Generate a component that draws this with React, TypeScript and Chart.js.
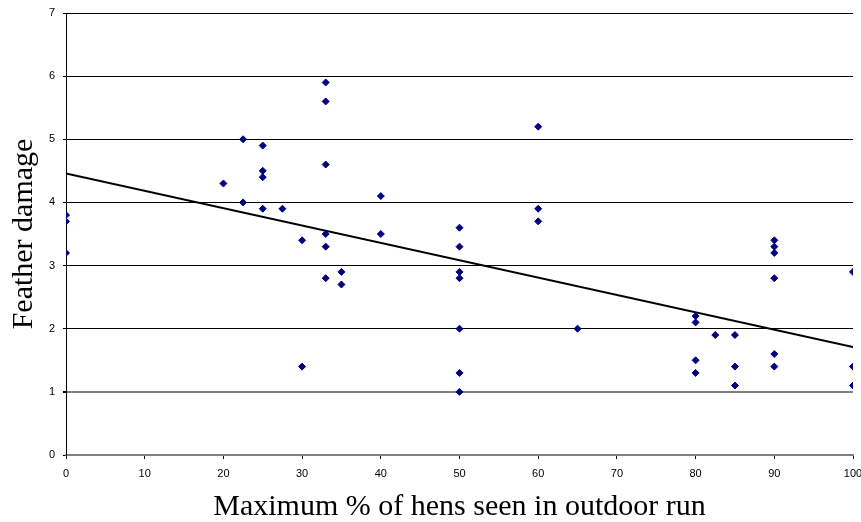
import React, { useEffect, useRef } from "react";
import { Chart, registerables } from "chart.js";

Chart.register(...registerables);

// Maximum % of hens seen in outdoor run
const hensPct: number[] = [
  0, 0, 0,
  20,
  22.5, 22.5,
  25, 25, 25, 25,
  27.5,
  30, 30,
  33, 33, 33, 33, 33, 33,
  35, 35,
  40, 40,
  50, 50, 50, 50, 50, 50, 50,
  60, 60, 60,
  65,
  80, 80, 80, 80,
  82.5,
  85, 85, 85,
  90, 90, 90, 90, 90, 90,
  100, 100, 100,
];

// Feather damage score
const featherDamage: number[] = [
  3.8, 3.7, 3.2,
  4.3,
  5.0, 4.0,
  4.9, 4.5, 4.4, 3.9,
  3.9,
  3.4, 1.4,
  5.9, 5.6, 4.6, 3.5, 3.3, 2.8,
  2.9, 2.7,
  4.1, 3.5,
  3.6, 3.3, 2.9, 2.8, 2.0, 1.3, 1.0,
  5.2, 3.9, 3.7,
  2.0,
  2.2, 2.1, 1.5, 1.3,
  1.9,
  1.9, 1.4, 1.1,
  3.4, 3.3, 3.2, 2.8, 1.6, 1.4,
  2.9, 1.4, 1.1,
];

// Linear trend line end points
const trendX: number[] = [0, 100];
const trendY: number[] = [4.46, 1.71];

const xTitle = "Maximum % of hens seen in outdoor run";
const yTitle = "Feather damage";

export default function App() {
  const ref = useRef<HTMLCanvasElement | null>(null);

  useEffect(() => {
    if (!ref.current) return;
    const points = hensPct.map((x, i) => ({ x, y: featherDamage[i] }));
    const trend = trendX.map((x, i) => ({ x, y: trendY[i] }));
    const chart = new Chart(ref.current, {
      type: "scatter",
      data: {
        datasets: [
          {
            type: "line",
            data: trend,
            borderColor: "#000000",
            borderWidth: 2,
            pointRadius: 0,
            showLine: true,
            fill: false,
            order: 2,
          },
          {
            type: "scatter",
            data: points,
            pointStyle: "rectRot",
            pointRadius: 3.5,
            pointBackgroundColor: "#000080",
            pointBorderColor: "#000080",
            pointBorderWidth: 1,
            order: 1,
          },
        ],
      },
      options: {
        responsive: false,
        animation: false,
        layout: { padding: { top: 13, right: 8, left: 0, bottom: 0 } },
        plugins: {
          legend: { display: false },
          tooltip: { enabled: false },
        },
        scales: {
          x: {
            type: "linear",
            min: 0,
            max: 100,
            ticks: {
              stepSize: 10,
              color: "#000000",
              font: { family: "'Liberation Sans', Arial", size: 11 },
              padding: 8,
              maxRotation: 0,
            },
            grid: {
              drawOnChartArea: false,
              drawTicks: true,
              tickLength: 4,
              tickColor: "#000000",
            },
            border: { color: "#808080", width: 2 },
            title: {
              display: true,
              text: xTitle,
              color: "#000000",
              font: { family: "'Liberation Serif', 'Times New Roman', serif", size: 30, lineHeight: 1 },
              padding: { top: 0, bottom: 0 },
            },
            afterFit: (scale: any) => {
              scale.height = 67;
              scale.paddingLeft = 0;
              scale.paddingRight = 0;
            },
          },
          y: {
            type: "linear",
            min: 0,
            max: 7,
            ticks: {
              stepSize: 1,
              color: "#000000",
              font: { family: "'Liberation Sans', Arial", size: 11 },
              padding: 8,
            },
            grid: {
              color: (ctx: any) =>
                ctx.tick && (ctx.tick.value === 1 || ctx.tick.value === 0) ? "#808080" : "#000000",
              lineWidth: (ctx: any) => (ctx.tick && ctx.tick.value === 1 ? 2 : 1),
              drawTicks: true,
              tickLength: 3,
              tickColor: "#000000",
            },
            border: { color: "#000000", width: 1 },
            title: {
              display: true,
              text: yTitle,
              color: "#000000",
              font: { family: "'Liberation Serif', 'Times New Roman', serif", size: 30, lineHeight: 1 },
              padding: { top: 9, bottom: 0 },
            },
            afterFit: (scale: any) => {
              scale.width = 66;
              scale.paddingTop = 0;
              scale.paddingBottom = 0;
            },
          },
        },
      },
    });
    return () => chart.destroy();
  }, []);

  return (
    <div style={{ position: "absolute", left: 0, top: 0, width: 861, height: 522, background: "#ffffff" }}>
      <canvas ref={ref} width={861} height={522} style={{ display: "block" }} />
    </div>
  );
}
